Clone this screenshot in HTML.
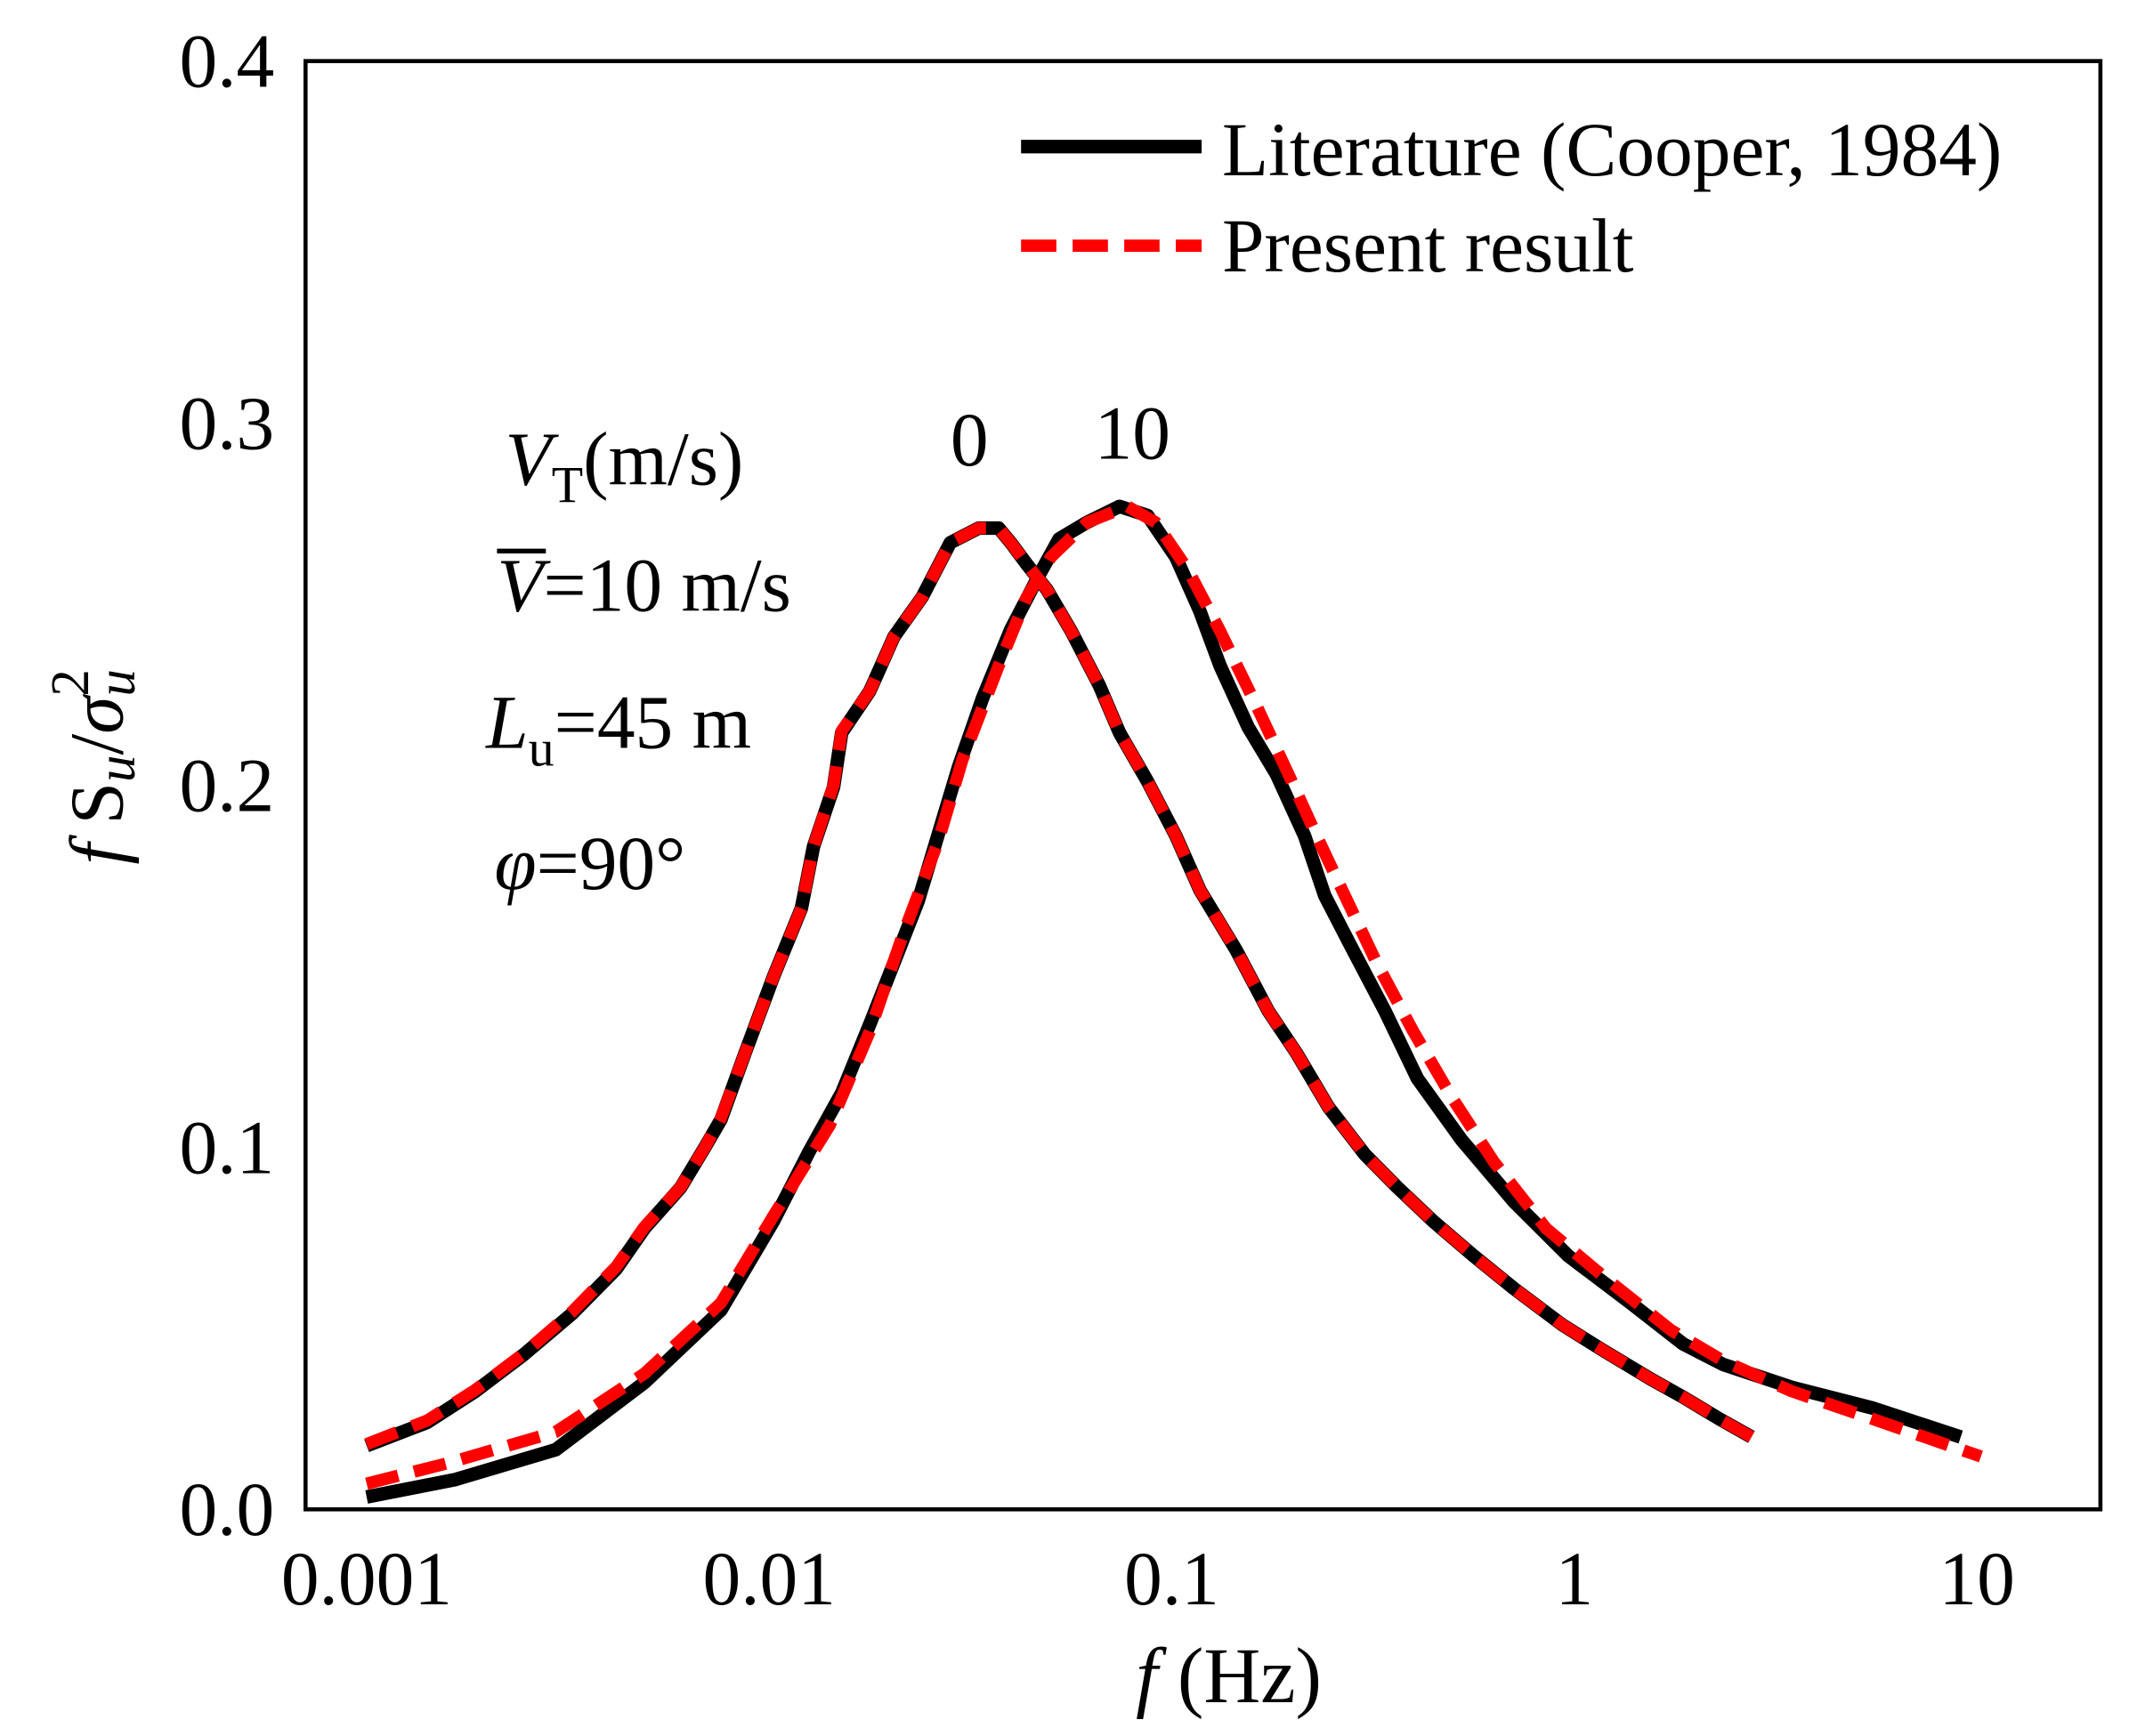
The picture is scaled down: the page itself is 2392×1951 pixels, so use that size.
<!DOCTYPE html>
<html><head><meta charset="utf-8"><style>
html,body{margin:0;padding:0;background:#fff}
svg{display:block}
text{font-family:"Liberation Serif",serif;fill:#000}
</style></head><body>
<svg width="2392" height="1951" viewBox="0 0 1568 1279" xmlns="http://www.w3.org/2000/svg">
<rect x="225" y="45" width="1322" height="1067" fill="none" stroke="#000" stroke-width="3"/>
<g id="yticks" font-size="56" text-anchor="end"></g>
<g id="xticks" font-size="56" text-anchor="middle"></g>
<g id="series"></g>
<text x="905" y="1254" font-size="58" text-anchor="middle"><tspan font-style="italic">f</tspan>  (Hz)</text>
<text transform="translate(90,565) rotate(-90)" font-size="56" text-anchor="middle"><tspan font-style="italic">f</tspan> S<tspan font-style="italic" font-size="40" dy="9">u</tspan><tspan dy="-9">/</tspan><tspan font-style="italic">σ</tspan><tspan font-style="italic" font-size="40" dy="9">u</tspan><tspan font-size="40" dx="-20" dy="-34">2</tspan></text>
<g>
<line x1="752" y1="108" x2="885" y2="108" stroke="#000" stroke-width="10"/>
<text x="900" y="129" font-size="56">Literature (Cooper, 1984)</text>
<line x1="752" y1="181" x2="885" y2="181" stroke="#f00" stroke-width="9" stroke-dasharray="26 12"/>
<text x="900" y="200" font-size="56">Present result</text>
</g>
<g font-size="56">
<text x="372" y="357"><tspan font-style="italic">V</tspan><tspan font-size="38" dy="13">T</tspan><tspan dy="-13">(m/s)</tspan></text>
<text x="714" y="343" text-anchor="middle">0</text>
<text x="834" y="338" text-anchor="middle">10</text>
<line x1="366" y1="406" x2="402" y2="406" stroke="#000" stroke-width="3.5"/>
<text x="366" y="450"><tspan font-style="italic">V</tspan>=10 m/s</text>
<text x="358" y="551"><tspan font-style="italic">L</tspan><tspan font-size="38" dy="13">u</tspan><tspan dy="-13">=45 m</tspan></text>
<text x="364" y="655"><tspan font-style="italic">φ</tspan>=90°</text>
</g>
</svg>
<script>
const yTicks=[0.0,0.1,0.2,0.3,0.4];
const yTickLabels=["0.0","0.1","0.2","0.3","0.4"];
const xTicks=[0.001,0.01,0.1,1,10];
const xTickLabels=["0.001","0.01","0.1","1","10"];
// log10 frequency and fSu/σu² values
const lit0LogF=[-3,-2.85,-2.73,-2.61,-2.49,-2.38,-2.31,-2.22,-2.16,-2.12,-2.06,-1.99,-1.92,-1.89,-1.84,-1.82,-1.75,-1.69,-1.62,-1.55,-1.48,-1.43,-1.40,-1.36,-1.31,-1.25,-1.18,-1.13,-1.06,-0.99,-0.93,-0.84,-0.76,-0.69,-0.61,-0.52,-0.44,-0.35,-0.25,-0.15,-0.03,0.07,0.19,0.27,0.36,0.44];
const lit0Val=[.0176,.024,.0326,.0427,.054,.0664,.0776,.0889,.100,.1076,.126,.147,.166,.183,.1995,.2145,.226,.241,.252,.267,.271,.271,.267,.261,.254,.2426,.2276,.2145,.201,.186,.171,.1545,.1376,.126,.111,.098,.089,.0795,.070,.061,.051,.044,.036,.031,.025,.020];
const pres0LogF=lit0LogF.slice();
const pres0Val=[.018,.0245,.033,.043,.0545,.067,.078,.089,.1,.108,.126,.147,.166,.183,.2,.215,.226,.241,.252,.267,.271,.271,.267,.261,.254,.2426,.2276,.2145,.201,.186,.171,.1545,.1376,.126,.111,.098,.089,.0795,.070,.061,.051,.044,.036,.031,.025,.020];
const lit10LogF=[-3,-2.78,-2.53,-2.31,-2.12,-1.99,-1.90,-1.82,-1.75,-1.63,-1.53,-1.47,-1.40,-1.33,-1.28,-1.21,-1.13,-1.06,-0.99,-0.93,-0.88,-0.81,-0.74,-0.67,-0.62,-0.55,-0.47,-0.39,-0.28,-0.15,-0.015,0.14,0.27,0.37,0.54,0.74,0.96];
const lit10Val=[.0034,.0082,.0165,.035,.055,.0795,.099,.115,.134,.168,.205,.224,.243,.258,.268,.2726,.277,.2745,.263,.248,.233,.216,.203,.186,.1695,.1545,.1376,.119,.102,.085,.070,.057,.0457,.040,.0337,.028,.020];
const pres10LogF=[-3,-2.80,-2.53,-2.31,-2.12,-1.99,-1.85,-1.75,-1.67,-1.58,-1.52,-1.43,-1.36,-1.30,-1.21,-1.11,-1.04,-0.96,-0.88,-0.79,-0.71,-0.64,-0.57,-0.49,-0.40,-0.30,-0.20,-0.07,0.07,0.24,0.37,0.54,0.74,1.01];
const pres10Val=[.0071,.0127,.0214,.0375,.057,.081,.106,.132,.158,.1845,.207,.233,.252,.263,.2726,.277,.2726,.2595,.2426,.222,.203,.186,.1695,.1507,.132,.113,.096,.0776,.0645,.0495,.041,.0326,.025,.0146];

const NS="http://www.w3.org/2000/svg";
function xScale(lf){return 270+(lf+3)*296.5;}
function yScale(v){return 1112-v/0.4*1067;}
const yt=document.getElementById('yticks');
yTicks.forEach((v,i)=>{const t=document.createElementNS(NS,'text');


t.setAttribute('x',202);t.setAttribute('y',yScale(v)+19);t.textContent=yTickLabels[i];yt.appendChild(t);});
const xt=document.getElementById('xticks');
xTicks.forEach((v,i)=>{const t=document.createElementNS(NS,'text');


t.setAttribute('x',xScale(Math.log10(v)));t.setAttribute('y',1182);t.textContent=xTickLabels[i];xt.appendChild(t);});
const sg=document.getElementById('series');
function draw(lf,vals,name,color,w,dash){const p=document.createElementNS(NS,'polyline');


p.setAttribute('points',lf.map((l,i)=>xScale(l).toFixed(1)+','+yScale(vals[i]).toFixed(1)).join(' '));
p.setAttribute('fill','none');p.setAttribute('stroke',color);p.setAttribute('stroke-width',w);
p.setAttribute('stroke-linejoin','round');
if(dash)p.setAttribute('stroke-dasharray',dash);sg.appendChild(p);}
draw(lit0LogF,lit0Val,'literature-vt0-line','#000',10,null);
draw(lit10LogF,lit10Val,'literature-vt10-line','#000',10,null);
draw(pres0LogF,pres0Val,'present-vt0-line','#f00',9,'24 12');
draw(pres10LogF,pres10Val,'present-vt10-line','#f00',9,'24 12');
</script>
</body></html>
